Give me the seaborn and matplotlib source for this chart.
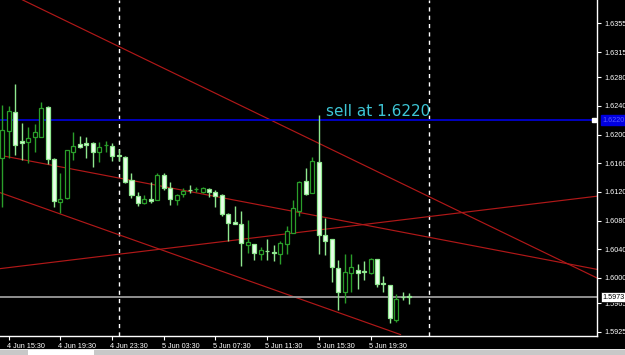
import matplotlib
matplotlib.use("Agg")
import matplotlib.pyplot as plt
import matplotlib.transforms as mtrans
import seaborn as sns
import numpy as np
import pandas as pd
from matplotlib.patches import Rectangle

# ---------------- data (M30 candles) ----------------
opens = [1.6167, 1.6205, 1.6232, 1.6191, 1.6189, 1.6196, 1.6197, 1.6238, 1.6166, 1.6106,
         1.6111, 1.6176, 1.6187, 1.6188, 1.6188, 1.6175, 1.6185, 1.6184, 1.6171, 1.6169,
         1.6136, 1.6114, 1.6104, 1.6110, 1.6109, 1.6144, 1.6126, 1.6109, 1.6117, 1.6123,
         1.6124, 1.6120, 1.6124, 1.6120, 1.6116, 1.6089, 1.6078, 1.6075, 1.6046, 1.6048,
         1.6033, 1.6038, 1.6036, 1.6033, 1.6048, 1.6063, 1.6093, 1.6135, 1.6118, 1.6162,
         1.6060, 1.6054, 1.6014, 1.5981, 1.6007, 1.6011, 1.6010, 1.6007, 1.6026, 1.5993,
         1.5990, 1.5941, 1.5974, 1.5975]
highs = [1.6241, 1.6240, 1.6270, 1.6216, 1.6210, 1.6214, 1.6245, 1.6240, 1.6167, 1.6146,
         1.6179, 1.6204, 1.6198, 1.6197, 1.6190, 1.6190, 1.6191, 1.6188, 1.6180, 1.6170,
         1.6146, 1.6120, 1.6116, 1.6134, 1.6146, 1.6146, 1.6134, 1.6117, 1.6125, 1.6129,
         1.6127, 1.6127, 1.6126, 1.6123, 1.6117, 1.6091, 1.6101, 1.6093, 1.6081, 1.6048,
         1.6043, 1.6055, 1.6046, 1.6051, 1.6072, 1.6109, 1.6135, 1.6153, 1.6168, 1.6227,
         1.6083, 1.6054, 1.6025, 1.6033, 1.6034, 1.6019, 1.6023, 1.6028, 1.6027, 1.6003,
         1.5990, 1.5978, 1.5981, 1.5979]
lows = [1.6099, 1.6167, 1.6171, 1.6164, 1.6160, 1.6176, 1.6196, 1.6159, 1.6099, 1.6090,
        1.6110, 1.6164, 1.6181, 1.6167, 1.6155, 1.6161, 1.6175, 1.6163, 1.6163, 1.6132,
        1.6111, 1.6100, 1.6103, 1.6104, 1.6108, 1.6123, 1.6102, 1.6102, 1.6113, 1.6118,
        1.6120, 1.6119, 1.6113, 1.6099, 1.6086, 1.6052, 1.6075, 1.6017, 1.6035, 1.6025,
        1.6025, 1.6025, 1.6023, 1.6020, 1.6033, 1.6062, 1.6086, 1.6116, 1.6118, 1.6034,
        1.6032, 1.5995, 1.5956, 1.5965, 1.5981, 1.5984, 1.5997, 1.6006, 1.5988, 1.5981,
        1.5937, 1.5939, 1.5969, 1.5964]
closes = [1.6206, 1.6233, 1.6185, 1.6188, 1.6195, 1.6203, 1.6237, 1.6166, 1.6107, 1.6110,
          1.6178, 1.6184, 1.6183, 1.6186, 1.6176, 1.6182, 1.6186, 1.6170, 1.6170, 1.6134,
          1.6116, 1.6105, 1.6110, 1.6107, 1.6143, 1.6125, 1.6110, 1.6115, 1.6121, 1.6122,
          1.6124, 1.6125, 1.6120, 1.6114, 1.6089, 1.6077, 1.6075, 1.6049, 1.6050, 1.6035,
          1.6039, 1.6037, 1.6035, 1.6049, 1.6065, 1.6097, 1.6134, 1.6117, 1.6163, 1.6060,
          1.6052, 1.6015, 1.5981, 1.6008, 1.6015, 1.6007, 1.6008, 1.6027, 1.5992, 1.5991,
          1.5944, 1.5971, 1.5973, 1.5973]

time_tick_idx = [1, 9, 17, 25, 33, 41, 49, 57]
time_tick_labels = ["4 Jun 15:30", "4 Jun 19:30", "4 Jun 23:30", "5 Jun 03:30",
                    "5 Jun 07:30", "5 Jun 11:30", "5 Jun 15:30", "5 Jun 19:30"]
price_ticks = [1.6355, 1.6315, 1.6280, 1.6240, 1.6200, 1.6160, 1.6120,
               1.6080, 1.6040, 1.6000, 1.5965, 1.5925]
price_tick_labels = ["1.6355", "1.6315", "1.6280", "1.6240", "1.6200", "1.6160", "1.6120",
                     "1.6080", "1.6040", "1.6000", "1.5965", "1.5925"]
sell_level = 1.6220
bid_level = 1.5973
day_separators = [18, 66]
trend_x0 = [3.05, -0.36, -0.36, -0.36]
trend_y0 = [1.6388, 1.6171, 1.6013, 1.6119]
trend_x1 = [92.06, 92.06, 92.06, 61.67]
trend_y1 = [1.6000, 1.6012, 1.6114, 1.5921]
note_text = "sell at 1.6220"

# ---------------- style ----------------
sns.set_style("dark", {"axes.facecolor": "black", "figure.facecolor": "black"})
plt.rcParams["font.family"] = ["Liberation Sans", "DejaVu Sans"]

W, H = 625, 355
fig = plt.figure(figsize=(W / 100, H / 100), dpi=100)
fig.patch.set_facecolor("black")
ax_right, ax_bottom = 597, 336
ax = fig.add_axes([0, (H - ax_bottom) / H, ax_right / W, ax_bottom / H])
ax.set_facecolor("black")

df = pd.DataFrame({"o": opens, "h": highs, "l": lows, "c": closes})
df["i"] = np.arange(len(df))
bull = df["c"] >= df["o"]

bull_col = "#2a9e2a"
bear_edge = "#8fe88f"
bear_fill = "#eaffea"

# trend lines (seaborn)
for k in range(len(trend_x0)):
    sns.lineplot(x=[trend_x0[k], trend_x1[k]], y=[trend_y0[k], trend_y1[k]], ax=ax,
                 color="#b01818", lw=0.85, estimator=None, sort=False, zorder=2)

# horizontal levels
ax.axhline(sell_level, color="#0000d0", lw=1.3, zorder=2)
ax.axhline(bid_level, color="#9a9a9a", lw=1.3, zorder=2)

# day separators
for s in day_separators:
    ax.axvline(s, color="white", lw=1.0, ls=(0, (3, 3)), zorder=1)

# wicks
wick_colors = np.where(bull, bull_col, bear_edge)
ax.vlines(df["i"], df["l"], df["h"], colors=wick_colors, lw=1.0, zorder=3)

# bodies
bottoms = np.minimum(df["o"], df["c"])
heights = np.abs(df["c"] - df["o"])
ax.bar(df["i"][bull], heights[bull], bottom=bottoms[bull], width=0.62,
       facecolor="black", edgecolor=bull_col, lw=0.9, zorder=4)
ax.bar(df["i"][~bull], heights[~bull], bottom=bottoms[~bull], width=0.62,
       facecolor=bear_fill, edgecolor=bear_edge, lw=0.9, zorder=4)

# text note
ax.text(50.1, 1.62258, note_text, color="#3ec6d6", fontsize=11,
        family="DejaVu Sans", ha="left", va="baseline", zorder=6)

# selection marker at right end of blue line
ax.plot([91.6], [sell_level], marker="s", ms=2.2, color="white", zorder=6)

# limits
ax.set_xlim(-0.356, 92.06)
ax.set_ylim(1.59191, 1.63875)

# axes
for sp in ["top", "left"]:
    ax.spines[sp].set_visible(False)
for sp in ["right", "bottom"]:
    ax.spines[sp].set_visible(True)
    ax.spines[sp].set_color("white")
    ax.spines[sp].set_linewidth(1.0)

ax.yaxis.tick_right()
ax.set_yticks(price_ticks)
ax.set_yticklabels(price_tick_labels)
ax.tick_params(axis="y", which="both", right=True, left=False, labelright=True,
               labelleft=False, colors="white", labelsize=5.2, length=3, width=0.8, pad=2)
ax.set_xticks(time_tick_idx)
ax.set_xticklabels(time_tick_labels, ha="left")
ax.tick_params(axis="x", bottom=True, colors="white", labelsize=5.2, length=3,
               width=0.8, pad=2)
offset = mtrans.ScaledTranslation(-2 / 100, 0, fig.dpi_scale_trans)
for lbl in ax.get_xticklabels():
    lbl.set_transform(lbl.get_transform() + offset)
ax.grid(False)
ax.set_xlabel("")
ax.set_ylabel("")

# price labels on axis
ax.annotate("1.6220", xy=(1.0, sell_level), xycoords=("axes fraction", "data"),
            xytext=(4, 0), textcoords="offset points", va="center", ha="left",
            fontsize=5.2, color="#5a5aff", zorder=10, annotation_clip=False,
            bbox=dict(boxstyle="square,pad=0.25", fc="#0000e0", ec="#0000e0"))
ax.annotate("1.5973", xy=(1.0, bid_level), xycoords=("axes fraction", "data"),
            xytext=(4, 0), textcoords="offset points", va="center", ha="left",
            fontsize=5.2, color="black", zorder=10, annotation_clip=False,
            bbox=dict(boxstyle="square,pad=0.2", fc="white", ec="black", lw=0.5))

# bottom tab strip
fig.add_artist(Rectangle((0, 0), 1, 5 / H, transform=fig.transFigure,
                         facecolor="#c8c8c8", edgecolor="none"))
fig.add_artist(Rectangle((0, 5 / H), 1, 1 / H, transform=fig.transFigure,
                         facecolor="#e8e8e8", edgecolor="none"))
fig.add_artist(Rectangle((28 / W, 0), 66 / W, 5 / H, transform=fig.transFigure,
                         facecolor="white", edgecolor="none"))

fig.savefig("out.png", dpi=100, facecolor="black")
